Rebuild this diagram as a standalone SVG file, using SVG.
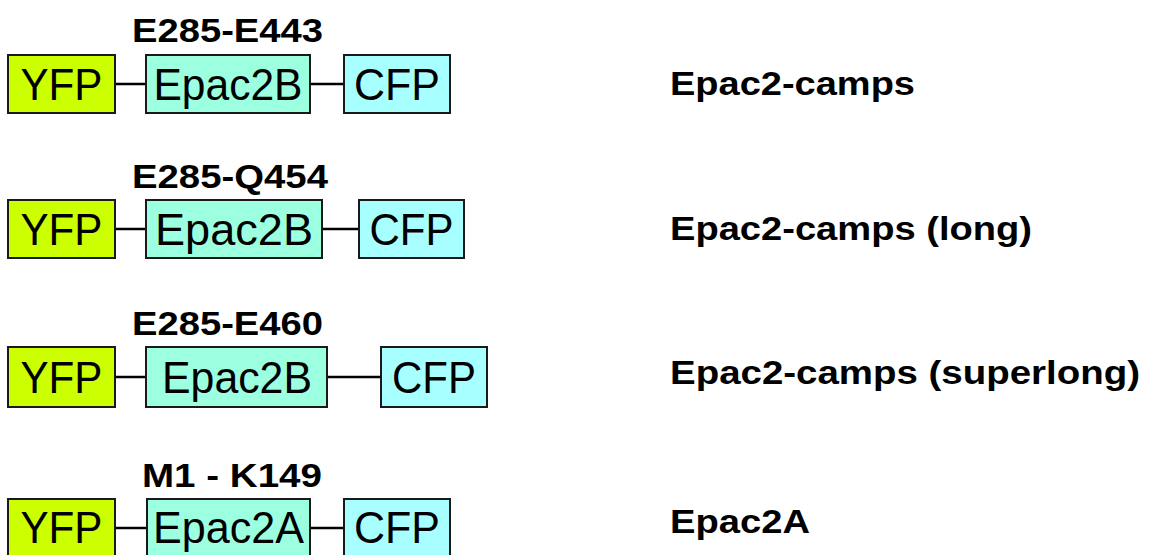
<svg xmlns="http://www.w3.org/2000/svg" width="1150" height="555" viewBox="0 0 1150 555">
<style>
.box{stroke:#1a1a1a;stroke-width:2}
.yfp{fill:#ccff00}
.epac{fill:#9cffe0}
.cfp{fill:#a8ffff}
.bt{font-family:"Liberation Sans",Arial,sans-serif;font-size:45px;fill:#000;text-anchor:middle}
.lb{font-family:"Liberation Sans",Arial,sans-serif;font-size:33px;font-weight:bold;fill:#000}
.ln{stroke:#000;stroke-width:2.5;fill:none}
</style>
<rect width="1150" height="555" fill="#fff"/>
<g id="connectors">
<line class="ln" x1="115" y1="84" x2="146" y2="84"/>
<line class="ln" x1="310" y1="84" x2="344" y2="84"/>
<line class="ln" x1="115" y1="229" x2="146" y2="229"/>
<line class="ln" x1="322" y1="229" x2="359" y2="229"/>
<line class="ln" x1="115" y1="377" x2="146" y2="377"/>
<line class="ln" x1="327" y1="377" x2="381" y2="377"/>
<line class="ln" x1="115" y1="528" x2="147" y2="528"/>
<line class="ln" x1="310" y1="528" x2="344" y2="528"/>
</g>
<g id="row1">
<text class="lb" x="132" y="42" textLength="191" lengthAdjust="spacingAndGlyphs">E285-E443</text>
<g id="r1-yfp"><rect class="box yfp" x="8" y="55" width="107" height="58"/><text class="bt" x="61.5" y="100" textLength="82" lengthAdjust="spacingAndGlyphs">YFP</text></g>
<g id="r1-epac"><rect class="box epac" x="146" y="55" width="164" height="58"/><text class="bt" x="228" y="100" textLength="149" lengthAdjust="spacingAndGlyphs">Epac2B</text></g>
<g id="r1-cfp"><rect class="box cfp" x="344" y="55" width="106" height="58"/><text class="bt" x="397" y="100" textLength="86" lengthAdjust="spacingAndGlyphs">CFP</text></g>
<text class="lb" x="670" y="95" textLength="245" lengthAdjust="spacingAndGlyphs">Epac2-camps</text>
</g>
<g id="row2">
<text class="lb" x="132" y="188" textLength="196" lengthAdjust="spacingAndGlyphs">E285-Q454</text>
<g id="r2-yfp"><rect class="box yfp" x="8" y="200" width="107" height="58"/><text class="bt" x="61.5" y="245" textLength="82" lengthAdjust="spacingAndGlyphs">YFP</text></g>
<g id="r2-epac"><rect class="box epac" x="146" y="200" width="176" height="58"/><text class="bt" x="234" y="245" textLength="158" lengthAdjust="spacingAndGlyphs">Epac2B</text></g>
<g id="r2-cfp"><rect class="box cfp" x="359" y="200" width="105" height="58"/><text class="bt" x="411.5" y="245" textLength="84" lengthAdjust="spacingAndGlyphs">CFP</text></g>
<text class="lb" x="670" y="240" textLength="362" lengthAdjust="spacingAndGlyphs">Epac2-camps (long)</text>
</g>
<g id="row3">
<text class="lb" x="132" y="335" textLength="191" lengthAdjust="spacingAndGlyphs">E285-E460</text>
<g id="r3-yfp"><rect class="box yfp" x="8" y="347" width="107" height="60"/><text class="bt" x="61.5" y="393" textLength="82" lengthAdjust="spacingAndGlyphs">YFP</text></g>
<g id="r3-epac"><rect class="box epac" x="146" y="347" width="181" height="60"/><text class="bt" x="237" y="393" textLength="150" lengthAdjust="spacingAndGlyphs">Epac2B</text></g>
<g id="r3-cfp"><rect class="box cfp" x="381" y="347" width="106" height="60"/><text class="bt" x="434" y="393" textLength="84" lengthAdjust="spacingAndGlyphs">CFP</text></g>
<text class="lb" x="670" y="384" textLength="470" lengthAdjust="spacingAndGlyphs">Epac2-camps (superlong)</text>
</g>
<g id="row4">
<text class="lb" x="142" y="487" textLength="180" lengthAdjust="spacingAndGlyphs">M1 - K149</text>
<g id="r4-yfp"><rect class="box yfp" x="8" y="499" width="107" height="60"/><text class="bt" x="61.5" y="543" textLength="82" lengthAdjust="spacingAndGlyphs">YFP</text></g>
<g id="r4-epac"><rect class="box epac" x="147" y="499" width="163" height="60"/><text class="bt" x="228.5" y="543" textLength="151" lengthAdjust="spacingAndGlyphs">Epac2A</text></g>
<g id="r4-cfp"><rect class="box cfp" x="344" y="499" width="106" height="60"/><text class="bt" x="397" y="543" textLength="86" lengthAdjust="spacingAndGlyphs">CFP</text></g>
<text class="lb" x="670" y="533" textLength="140" lengthAdjust="spacingAndGlyphs">Epac2A</text>
</g>
</svg>
